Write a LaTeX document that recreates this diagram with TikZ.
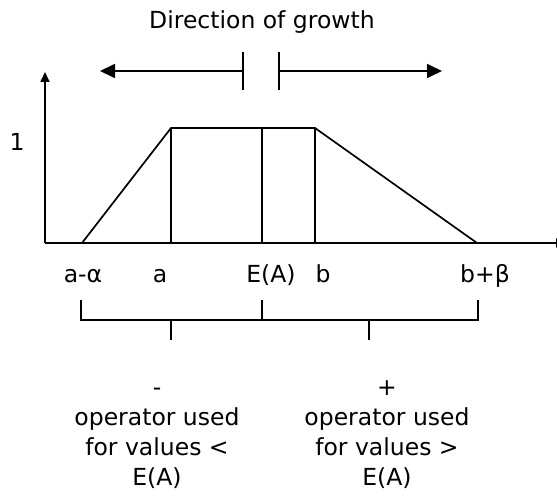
\documentclass[tikz,border=0pt]{standalone}
\usepackage{fontspec}
\setmainfont{DejaVu Sans}
\usetikzlibrary{arrows.meta,positioning}
\tikzset{
  >={Triangle[length=15pt,width=14pt]},
  % akser och kurva
  ax/.style={draw=black,line width=1.7pt},
  axarr/.style={-{Triangle[length=10pt,width=9pt]}},
  mf/.style={draw=black,line width=1.7pt,line join=miter},
  % etiketter
  lbl/.style={font=\fontsize{23.5}{27}\selectfont,inner sep=1pt},
  xlbl/.style={lbl,anchor=base},
  txt/.style={font=\fontsize{23.5}{30}\selectfont,align=center,inner sep=0pt},
  brk/.style={draw=black,line width=1.7pt},
  dirarr/.style={->,draw=black,line width=1.7pt},
}
\begin{document}
\begin{tikzpicture}[x=1pt,y=-1pt]
  \useasboundingbox (0,0) rectangle (557,500);
  % axlar
  \coordinate (O) at (45,243);
  \coordinate (ytop) at (45,72);
  \coordinate (xend) at (566,243);
  \draw[ax,axarr] (O) -- (ytop);
  \draw[ax,axarr] (O) -- (xend);
  % trapets
  \coordinate (pl) at (82,243);
  \coordinate (pa) at (171,243);
  \coordinate (pe) at (262,243);
  \coordinate (pb) at (315,243);
  \coordinate (pr) at (477,243);
  \coordinate (ta) at (171,128);
  \coordinate (te) at (262,128);
  \coordinate (tb) at (315,128);
  \draw[mf] (pl) -- (ta) -- (tb) -- (pr);
  \draw[mf] (ta) -- (pa);
  \draw[mf] (te) -- (pe);
  \draw[mf] (tb) -- (pb);
  \node[lbl] (one) at (17,142) {1};
  % tillväxtriktning
  \node[lbl] (dir) at (262,22) {Direction of growth};
  \coordinate (lbar) at (243,71);
  \coordinate (rbar) at (279,71);
  \coordinate (ltip) at (100,71);
  \coordinate (rtip) at (442,71);
  \draw[brk] (243,52) -- (243,90);
  \draw[brk] (279,52) -- (279,90);
  \draw[dirarr] (lbar) -- (ltip);
  \draw[dirarr] (rbar) -- (rtip);
  % x-etiketter
  \node[xlbl] (la) at (83,282) {a-α};
  \node[xlbl] (a) at (160,282) {a};
  \node[xlbl] (ea) at (271,282) {E(A)};
  \node[xlbl] (b) at (323,282) {b};
  \node[xlbl] (rb) at (485,282) {b+β};
  % klammer
  \coordinate (k1) at (81,320);
  \coordinate (k2) at (262,320);
  \coordinate (k3) at (478,320);
  \draw[brk] (81,300) -- (k1) -- (k3) -- (478,300);
  \draw[brk,line width=2.4pt] (262,300) -- (k2);
  \coordinate (m1) at (171,320);
  \coordinate (m2) at (369,320);
  \draw[brk] (m1) -- (171,340);
  \draw[brk] (m2) -- (369,340);
  % operatorer
  \node[txt,anchor=north] (opm) at (157,374) {\strut-\\operator used\\for values <\\E(A)};
  \node[txt,anchor=north] (opp) at (387,374) {\strut+\\operator used\\for values >\\E(A)};
\end{tikzpicture}
\end{document}
